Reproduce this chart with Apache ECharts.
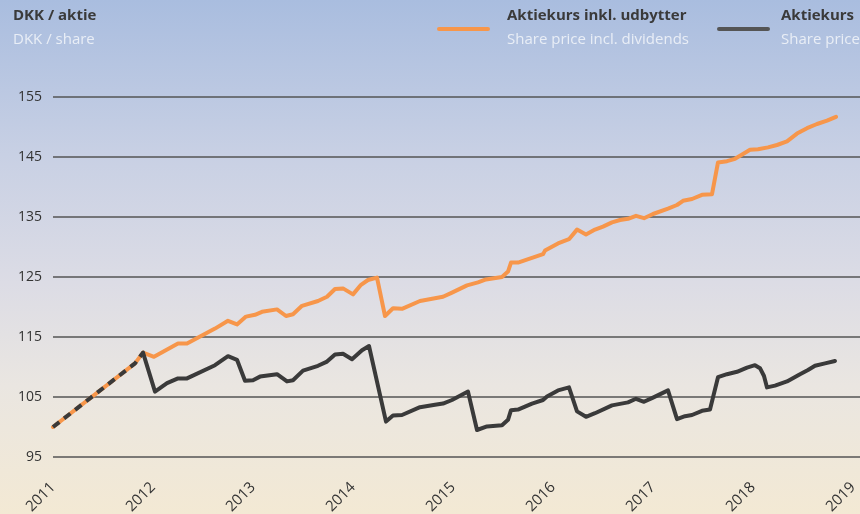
<!DOCTYPE html>
<html>
<head>
<meta charset="utf-8">
<script src="https://cdn.jsdelivr.net/npm/echarts@6/dist/echarts.min.js"></script>
<style>
html,body{margin:0;padding:0;width:860px;height:514px;overflow:hidden;}
#chart{width:860px;height:514px;}
</style>
</head>
<body>
<div id="chart"></div>
<script>
// Axis ticks
const yearTicks = [2011, 2012, 2013, 2014, 2015, 2016, 2017, 2018, 2019];
const valueTicks = [95, 105, 115, 125, 135, 145, 155];

// Share price incl. dividends: [year, DKK]
const priceInclDividends = [
  [2011.00, 100.0], [2011.82, 110.6], [2011.90, 112.4], [2012.01, 111.7], [2012.25, 113.9],
  [2012.34, 113.9], [2012.62, 116.4], [2012.75, 117.7], [2012.84, 117.1], [2012.93, 118.4],
  [2013.02, 118.7], [2013.09, 119.2], [2013.24, 119.6], [2013.33, 118.5], [2013.40, 118.8],
  [2013.49, 120.2], [2013.65, 121.0], [2013.74, 121.7], [2013.82, 123.0], [2013.90, 123.1],
  [2014.00, 122.1], [2014.08, 123.7], [2014.15, 124.5], [2014.24, 124.9], [2014.32, 118.5],
  [2014.40, 119.8], [2014.49, 119.7], [2014.67, 121.0], [2014.90, 121.7], [2014.99, 122.4],
  [2015.14, 123.6], [2015.25, 124.1], [2015.33, 124.6], [2015.49, 125.0], [2015.55, 125.9],
  [2015.58, 127.4], [2015.65, 127.4], [2015.90, 128.8], [2015.92, 129.4], [2016.05, 130.6],
  [2016.16, 131.3], [2016.24, 132.9], [2016.33, 132.1], [2016.42, 132.9], [2016.50, 133.4],
  [2016.59, 134.1], [2016.67, 134.5], [2016.75, 134.7], [2016.83, 135.2], [2016.91, 134.8],
  [2017.00, 135.5], [2017.15, 136.4], [2017.24, 137.0], [2017.30, 137.7], [2017.39, 138.0],
  [2017.49, 138.7], [2017.59, 138.8], [2017.65, 144.1], [2017.74, 144.3], [2017.82, 144.7],
  [2017.90, 145.5], [2017.97, 146.2], [2018.05, 146.3], [2018.15, 146.6], [2018.24, 147.0],
  [2018.34, 147.6], [2018.44, 148.9], [2018.54, 149.8], [2018.64, 150.5], [2018.74, 151.05],
  [2018.83, 151.7]
];

// Share price: [year, DKK]; first points (2011) drawn dashed
const sharePrice = [
  [2011.00, 100.0], [2011.82, 110.6], [2011.90, 112.4],
  [2012.02, 105.9], [2012.14, 107.3], [2012.25, 108.1], [2012.34, 108.1], [2012.62, 110.3],
  [2012.75, 111.8], [2012.84, 111.2], [2012.92, 107.7], [2013.00, 107.8], [2013.07, 108.4],
  [2013.24, 108.8], [2013.34, 107.6], [2013.40, 107.8], [2013.50, 109.4], [2013.65, 110.2],
  [2013.74, 110.9], [2013.82, 112.1], [2013.90, 112.2], [2013.99, 111.3], [2014.09, 112.8],
  [2014.16, 113.5], [2014.33, 100.9], [2014.40, 101.9], [2014.49, 102.0], [2014.67, 103.3],
  [2014.82, 103.7], [2014.90, 103.9], [2014.99, 104.5], [2015.15, 105.9], [2015.24, 99.5],
  [2015.34, 100.1], [2015.49, 100.3], [2015.55, 101.2], [2015.58, 102.8], [2015.65, 102.9],
  [2015.79, 103.9], [2015.90, 104.5], [2015.94, 105.1], [2016.05, 106.1], [2016.16, 106.6],
  [2016.24, 102.6], [2016.33, 101.7], [2016.42, 102.3], [2016.59, 103.6], [2016.75, 104.1],
  [2016.83, 104.7], [2016.91, 104.2], [2017.00, 104.9], [2017.15, 106.1], [2017.24, 101.3],
  [2017.32, 101.8], [2017.39, 102.0], [2017.49, 102.7], [2017.57, 102.9], [2017.65, 108.3],
  [2017.74, 108.8], [2017.84, 109.2], [2017.94, 109.9], [2018.02, 110.3], [2018.07, 109.8],
  [2018.11, 108.5], [2018.14, 106.6], [2018.22, 106.9], [2018.34, 107.6], [2018.47, 108.8],
  [2018.55, 109.5], [2018.62, 110.2], [2018.72, 110.6], [2018.82, 111.0]
];
const dashedCount = 3; // number of leading points of sharePrice drawn dashed

const titleMain = 'DKK / aktie';
const titleSub = 'DKK / share';
const legendOrangeMain = 'Aktiekurs inkl. udbytter';
const legendOrangeSub = 'Share price incl. dividends';
const legendDarkMain = 'Aktiekurs';
const legendDarkSub = 'Share price';

const ORANGE = '#f7964a';
const DARK = '#3a3a3a';
const FONT = '"Open Sans", "Noto Sans", sans-serif';

const chart = echarts.init(document.getElementById('chart'), null, {renderer: 'canvas'});

const mainStyle = {fontFamily: FONT, fontSize: 15, fontWeight: 'bold', fill: '#3a3a3a'};
const subStyle = {fontFamily: FONT, fontSize: 15, fontWeight: 'normal', fill: '#e9eef6'};

chart.setOption({
  animation: false,
  backgroundColor: new echarts.graphic.LinearGradient(0, 0, 0, 1, [
    {offset: 0, color: '#a9bddf'},
    {offset: 0.3, color: '#c8d0e4'},
    {offset: 0.55, color: '#dcdce5'},
    {offset: 0.75, color: '#eae6e1'},
    {offset: 1, color: '#f3e9d4'}
  ]),
  grid: {left: 53, right: 0, top: 97, bottom: 57, containLabel: false, outerBoundsMode: 'none'},
  xAxis: {
    type: 'value',
    min: yearTicks[0],
    max: 2019.07,
    interval: 1,
    axisLine: {show: false},
    axisTick: {show: false},
    splitLine: {show: false},
    axisLabel: {
      rotate: 45,
      margin: 28,
      fontSize: 15,
      fontFamily: FONT,
      color: '#333',
      showMaxLabel: false,
      formatter: function (v) { return yearTicks.indexOf(Math.round(v * 100) / 100) >= 0 ? String(v) : ''; }
    }
  },
  yAxis: {
    type: 'value',
    min: valueTicks[0],
    max: valueTicks[valueTicks.length - 1],
    interval: 10,
    axisLine: {show: false},
    axisTick: {show: false},
    splitLine: {show: true, lineStyle: {color: '#555', width: 1.5}},
    axisLabel: {margin: 11, fontSize: 14, fontFamily: FONT, color: '#333'}
  },
  graphic: [
    {type: 'text', left: 13, top: 8, style: Object.assign({text: titleMain}, mainStyle)},
    {type: 'text', left: 13, top: 32, style: Object.assign({text: titleSub}, subStyle)},
    {type: 'line', shape: {x1: 439, y1: 29, x2: 488, y2: 29}, style: {stroke: ORANGE, lineWidth: 4, lineCap: 'round'}},
    {type: 'text', left: 507, top: 8, style: Object.assign({text: legendOrangeMain}, mainStyle)},
    {type: 'text', left: 507, top: 32, style: Object.assign({text: legendOrangeSub}, subStyle)},
    {type: 'line', shape: {x1: 719, y1: 29, x2: 768, y2: 29}, style: {stroke: '#555', lineWidth: 4, lineCap: 'round'}},
    {type: 'text', left: 781, top: 8, style: Object.assign({text: legendDarkMain}, mainStyle)},
    {type: 'text', left: 781, top: 32, style: Object.assign({text: legendDarkSub}, subStyle)}
  ],
  series: [
    {
      name: legendOrangeMain, type: 'line', data: priceInclDividends, showSymbol: false,
      lineStyle: {color: ORANGE, width: 4, join: 'round', cap: 'round'}, z: 2
    },
    {
      name: legendDarkMain, type: 'line', data: sharePrice.slice(dashedCount - 1), showSymbol: false,
      lineStyle: {color: DARK, width: 4, join: 'round', cap: 'round'}, z: 3
    },
    {
      name: legendDarkMain + ' (2011)', type: 'line', data: sharePrice.slice(0, dashedCount), showSymbol: false,
      lineStyle: {color: DARK, width: 4, type: [8, 6], cap: 'butt'}, z: 4
    }
  ]
});
</script>
</body>
</html>
